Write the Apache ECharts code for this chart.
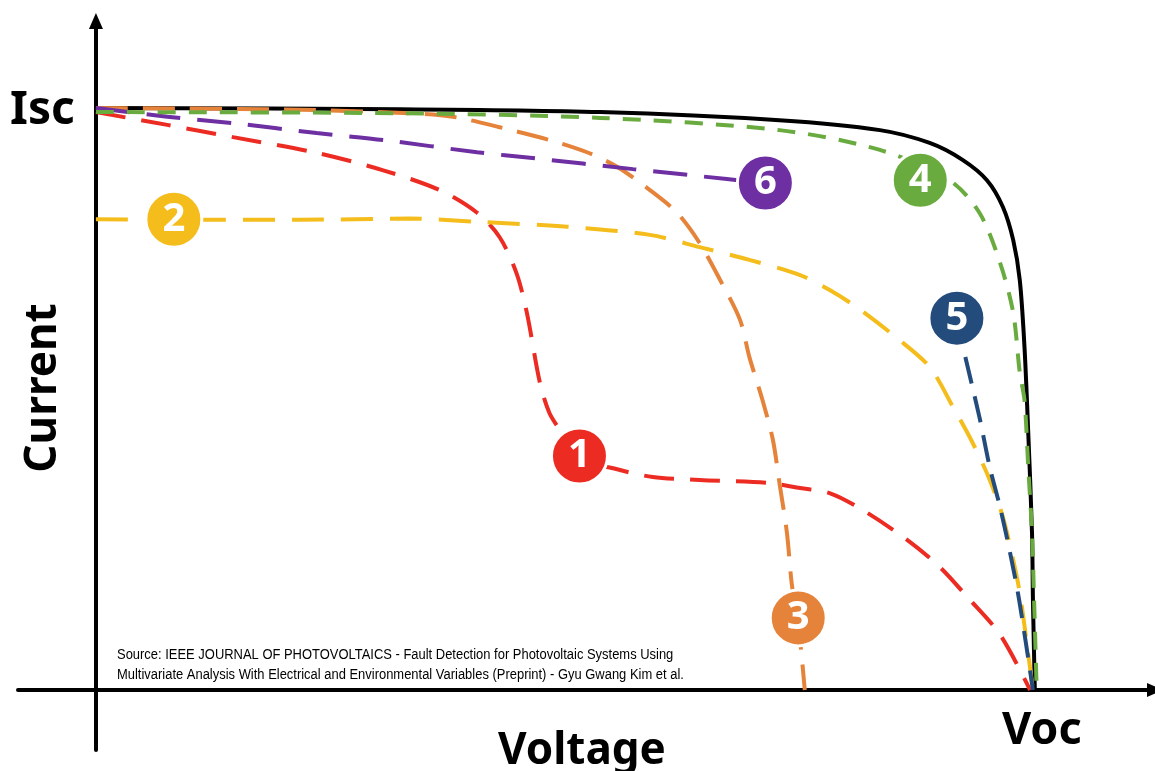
<!DOCTYPE html>
<html>
<head>
<meta charset="utf-8">
<script src="https://cdn.jsdelivr.net/npm/echarts@6/dist/echarts.min.js"></script>
<style>
html,body{margin:0;padding:0;background:#fff;}
#chart{width:1155px;height:771px;}
</style>
</head>
<body>
<div id="chart"></div>
<script>
// Values are normalized: V / Voc (x) and I / Isc (y)
const referenceCurve = [[0,1.0],[0.324,0.998],[0.537,0.993],[0.728,0.979],[0.835,0.962],[0.888,0.940],[0.923,0.911],[0.949,0.876],[0.966,0.830],[0.977,0.773],[0.984,0.704],[0.989,0.589],[0.993,0.442],[0.997,0.270],[0.998,0.155],[1.0,0]];
const fault1 = [[0,0.993],[0.076,0.971],[0.146,0.950],[0.235,0.923],[0.306,0.893],[0.366,0.859],[0.406,0.820],[0.430,0.778],[0.448,0.716],[0.459,0.648],[0.473,0.527],[0.483,0.476],[0.494,0.447],[0.513,0.400],[0.551,0.381],[0.593,0.366],[0.643,0.361],[0.715,0.356],[0.750,0.347],[0.782,0.338],[0.817,0.309],[0.864,0.258],[0.899,0.211],[0.928,0.160],[0.963,0.095],[0.995,0]];
const fault2 = [[0,0.809],[0.081,0.808],[0.217,0.808],[0.334,0.810],[0.412,0.804],[0.502,0.796],[0.590,0.782],[0.643,0.761],[0.696,0.739],[0.750,0.713],[0.782,0.687],[0.810,0.658],[0.853,0.605],[0.888,0.555],[0.913,0.486],[0.934,0.424],[0.952,0.361],[0.966,0.297],[0.977,0.223],[0.984,0.167],[0.991,0.086],[0.998,0]];
const fault3 = [[0,1.0],[0.217,0.997],[0.334,0.991],[0.380,0.985],[0.430,0.967],[0.483,0.945],[0.523,0.924],[0.555,0.899],[0.590,0.859],[0.619,0.820],[0.643,0.768],[0.665,0.704],[0.686,0.636],[0.696,0.572],[0.710,0.498],[0.721,0.430],[0.728,0.356],[0.736,0.270],[0.741,0.184],[0.747,0.124],[0.751,0.069],[0.755,0]];
const fault4 = [[0,0.993],[0.324,0.991],[0.537,0.983],[0.728,0.962],[0.835,0.928],[0.909,0.876],[0.941,0.820],[0.963,0.734],[0.977,0.648],[0.984,0.545],[0.989,0.498],[0.993,0.383],[0.997,0.270],[0.999,0.167],[1.002,0]];
const fault5 = [[0.917,0.639],[0.923,0.593],[0.941,0.469],[0.952,0.383],[0.963,0.314],[0.973,0.241],[0.982,0.167],[0.990,0.086],[0.998,0]];
const fault6 = [[0,1.0],[0.015,0.997],[0.076,0.985],[0.146,0.974],[0.235,0.957],[0.306,0.945],[0.406,0.924],[0.465,0.914],[0.572,0.895],[0.672,0.878],[0.713,0.871]];
const badgeLabels = ['1','2','3','4','5','6'];
const badgeV = [0.515,0.083,0.748,0.878,0.917,0.713];
const badgeI = [0.402,0.809,0.124,0.876,0.639,0.871];
const axisLabelI = 'Isc';
const axisLabelV = 'Voc';
const xTitle = 'Voltage';
const yTitle = 'Current';
const sourceLines = ['Source: IEEE JOURNAL OF PHOTOVOLTAICS - Fault Detection for Photovoltaic Systems Using','Multivariate Analysis With Electrical and Environmental Variables (Preprint) - Gyu Gwang Kim et al.'];

const colors = {ref:'#000000',f1:'#EC2B22',f2:'#F4BD1C',f3:'#E6833A',f4:'#6AAB40',f5:'#234C7C',f6:'#6E2FA2'};
const badgeColors = [colors.f1,colors.f2,colors.f3,colors.f4,colors.f5,colors.f6];

function dashed(name,data,color,dash,z){
  return {type:'line',name:name,data:data,smooth:0.3,symbol:'none',z:z,
    lineStyle:{color:color,width:4,type:dash,cap:'butt'}};
}

const chart = echarts.init(document.getElementById('chart'),null,{renderer:'canvas'});
const bigFont = 'Noto Sans';
chart.setOption({
  animation:false,
  backgroundColor:'#ffffff',
  grid:{left:18,right:0,top:21,bottom:21,containLabel:false},
  xAxis:{type:'value',min:-0.083,max:1.128,
    axisLine:{onZero:true,symbol:['none','triangle'],symbolSize:[14,16],lineStyle:{color:'#000',width:4}},
    axisTick:{show:false},axisLabel:{show:false},splitLine:{show:false}},
  yAxis:{type:'value',min:-0.103,max:1.1495,
    axisLine:{onZero:true,symbol:['none','triangle'],symbolSize:[14,16],lineStyle:{color:'#000',width:4}},
    axisTick:{show:false},axisLabel:{show:false},splitLine:{show:false}},
  series:[
    {type:'line',name:'Reference',data:referenceCurve,smooth:0.3,symbol:'none',z:2,lineStyle:{color:colors.ref,width:4}},
    dashed('Fault 1',fault1,colors.f1,[30,16],3),
    dashed('Fault 3',fault3,colors.f3,[32,15],3),
    dashed('Fault 6',fault6,colors.f6,[34,17],3),
    dashed('Fault 2',fault2,colors.f2,[32,17],3),
    dashed('Fault 5',fault5,colors.f5,[27,13],4),
    dashed('Fault 4',fault4,colors.f4,[18,13],5),
    {type:'scatter',name:'badges',z:10,symbol:'circle',symbolSize:56,
      data:badgeLabels.map((l,k)=>({value:[badgeV[k],badgeI[k]],name:l,
        itemStyle:{color:badgeColors[k],opacity:1,borderColor:'#ffffff',borderWidth:3}})),
      itemStyle:{opacity:1},
      label:{show:true,position:'inside',formatter:p=>p.name,color:'#ffffff',
        fontSize:40,fontWeight:'bold',fontFamily:bigFont}}
  ],
  graphic:[
    {type:'text',left:10,top:88,style:{text:axisLabelI,font:'bold 46px "Noto Sans"',fill:'#000'}},
    {type:'text',left:1002,top:709,style:{text:axisLabelV,font:'bold 45px "Noto Sans"',fill:'#000'}},
    {type:'text',left:498,top:729,style:{text:xTitle,font:'bold 44px "Noto Sans"',fill:'#000'}},
    {type:'text',x:43,y:388,rotation:Math.PI/2,style:{text:yTitle,font:'bold 44px "Noto Sans"',fill:'#000',align:'center',verticalAlign:'middle'}},
    {type:'text',x:117,y:655,scaleX:0.925,style:{text:sourceLines[0],font:'14px "Liberation Sans"',fill:'#000',verticalAlign:'middle'}},
    {type:'text',x:117,y:675,scaleX:0.925,style:{text:sourceLines[1],font:'14px "Liberation Sans"',fill:'#000',verticalAlign:'middle'}}
  ]
});
</script>
</body>
</html>
